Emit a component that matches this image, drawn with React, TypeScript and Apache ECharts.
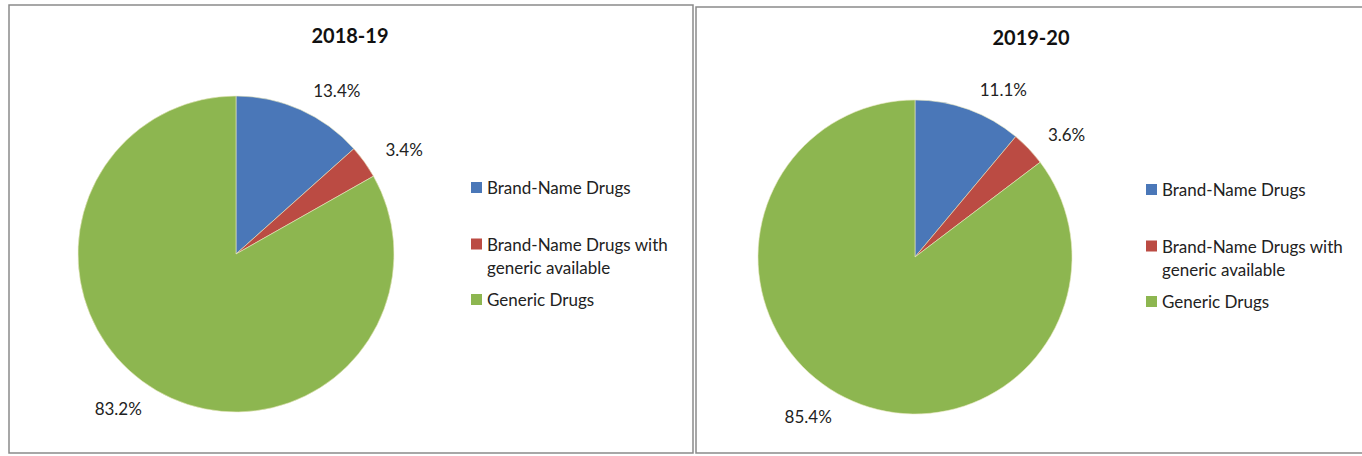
import React, { useEffect, useRef } from "react";
import * as echarts from "echarts";

const categories = ["Brand-Name Drugs", "Brand-Name Drugs with generic available", "Generic Drugs"];
const legendLabels = ["Brand-Name Drugs", "Brand-Name Drugs with\ngeneric available", "Generic Drugs"];
const titles = ["2018-19", "2019-20"];
const values2018 = [13.4, 3.4, 83.2];
const values2019 = [11.1, 3.6, 85.4];
const colors = ["#4a77b8", "#bb4b43", "#8db650"];

const FONT = "Lato, 'Open Sans', sans-serif";
// square icon sitting at the first text line of a two-line legend entry
const TALL_ICON = "path://M5,0h0.01v0.01h-0.01z M0,6h11v11h-11z M5,45.9h0.01v0.01h-0.01z";

export default function App() {
  const ref = useRef<HTMLDivElement>(null);
  useEffect(() => {
    if (!ref.current) return;
    const chart = echarts.init(ref.current, undefined, { renderer: "svg" });
    const mk = (vals: number[]) => vals.map((v, i) => ({ name: categories[i], value: v }));
    const pieBase = {
      type: "pie",
      radius: 158,
      startAngle: 90,
      clockwise: true,
      avoidLabelOverlap: false,
      label: {
        show: true,
        position: "outside",
        formatter: (p: any) => p.value.toFixed(1) + "%",
        fontFamily: FONT,
        fontSize: 17,
        color: "#222",
        distanceToLabelLine: 4,
      },
      labelLine: { show: false, length: 21, length2: 0 },
      itemStyle: { borderWidth: 0.6, borderColor: "#e8e8c0" },
      emphasis: { disabled: true },
    };
    const legendBase = {
      orient: "vertical",
      padding: 0,
      itemWidth: 11,
      itemHeight: 11,
      icon: "rect",
      selectedMode: false,
      itemStyle: { borderWidth: 0 },
      textStyle: { fontFamily: FONT, fontSize: 17, color: "#222", lineHeight: 23 },
    };
    const legends: any[] = [];
    const lx = [471, 1146];
    const tops = [
      [176, 232.5, 288],
      [178, 234.5, 290],
    ];
    for (let p = 0; p < 2; p++) {
      for (let i = 0; i < 3; i++) {
        const extra =
          i === 1 ? { icon: TALL_ICON, itemHeight: 46, itemSymbolKeepAspect: false } : {};
        legends.push({
          ...legendBase,
          ...extra,
          left: lx[p],
          top: tops[p][i],
          data: [categories[i]],
          formatter: () => legendLabels[i],
        });
      }
    }
    chart.setOption({
      animation: false,
      color: colors,
      title: [
        {
          text: titles[0],
          left: 345,
          top: 20,
          textAlign: "center",
          textStyle: { fontFamily: FONT, fontWeight: "bold", fontSize: 20, color: "#111" },
        },
        {
          text: titles[1],
          left: 1026,
          top: 22,
          textAlign: "center",
          textStyle: { fontFamily: FONT, fontWeight: "bold", fontSize: 20, color: "#111" },
        },
      ],
      legend: legends,
      graphic: [
        {
          type: "rect",
          shape: { x: 9, y: 5, width: 684, height: 448 },
          style: { fill: "none", stroke: "#8a8a8a", lineWidth: 1.5 },
          z: -1,
        },
        {
          type: "rect",
          shape: { x: 696, y: 7, width: 680, height: 446 },
          style: { fill: "none", stroke: "#8a8a8a", lineWidth: 1.5 },
          z: -1,
        },
      ],
      series: [
        { ...pieBase, center: [236, 254], data: mk(values2018) },
        { ...pieBase, center: [915, 257], radius: 157, data: mk(values2019) },
      ],
    } as any);
    return () => chart.dispose();
  }, []);
  return (
    <div
      ref={ref}
      style={{ position: "absolute", left: 0, top: 0, width: 1362, height: 456, background: "#fff" }}
    />
  );
}
